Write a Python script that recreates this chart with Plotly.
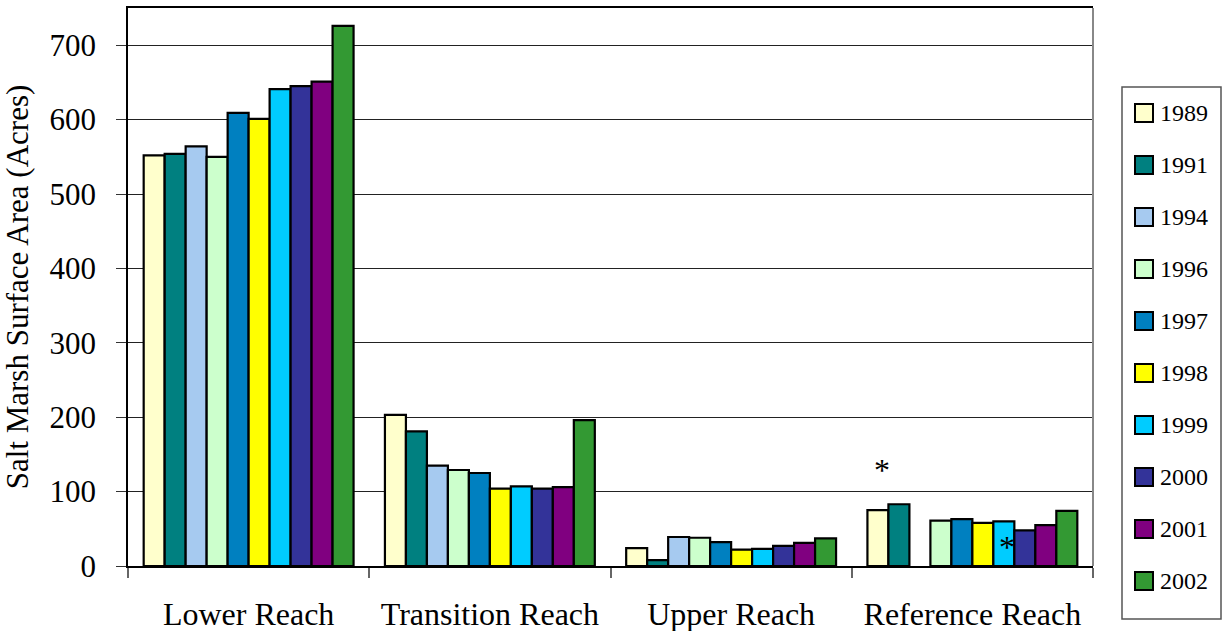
import plotly.graph_objects as go

# Salt marsh surface area by reach and survey year
reaches = ["Lower Reach", "Transition Reach", "Upper Reach", "Reference Reach"]
years = ["1989", "1991", "1994", "1996", "1997", "1998", "1999", "2000", "2001", "2002"]

acres_1989 = [552, 203, 24, 75]
acres_1991 = [554, 181, 8, 83]
acres_1994 = [564, 135, 39, None]
acres_1996 = [550, 129, 38, 61]
acres_1997 = [609, 125, 32, 63]
acres_1998 = [601, 104, 22, 58]
acres_1999 = [641, 107, 23, 60]
acres_2000 = [645, 104, 27, 48]
acres_2001 = [651, 106, 31, 55]
acres_2002 = [726, 196, 37, 74]

series = [acres_1989, acres_1991, acres_1994, acres_1996, acres_1997,
          acres_1998, acres_1999, acres_2000, acres_2001, acres_2002]

colors = ["#FFFFCC", "#008080", "#A6CAF0", "#CCFFCC", "#0080C0",
          "#FFFF00", "#00CCFF", "#333399", "#800080", "#339933"]

# Footnote markers: (reach index, year index, height in acres)
note_reach = [3, 3]
note_year = [0, 6]
note_height = [129, 25]

FONT = "Liberation Serif"

# Plot-area geometry in pixels (used to place the hand-built legend)
W, H = 1222, 631
L, R, T, B = 128, 129, 8, 65
PW, PH = W - L - R, H - T - B


def px_x(x):
    return (x - L) / PW


def px_y(y):
    return (H - B - y) / PH


fig = go.Figure()
for yr, vals, col in zip(years, series, colors):
    fig.add_trace(go.Bar(
        name=yr, x=reaches, y=vals,
        marker=dict(color=col, line=dict(color="#000000", width=2.2)),
        showlegend=False,
    ))

BARGAP = 0.13
n = len(years)
slot = (1 - BARGAP) / n
for ri, yi, h in zip(note_reach, note_year, note_height):
    xc = ri - (1 - BARGAP) / 2 + slot * (yi + 0.5) + 0.015
    fig.add_annotation(x=xc, y=h, xref="x", yref="y", text="*",
                       showarrow=False, font=dict(family=FONT, size=32, color="#000"),
                       yanchor="middle")

# Legend box
shapes = [dict(type="rect", xref="paper", yref="paper",
               x0=px_x(1122), x1=px_x(1221), y0=px_y(619), y1=px_y(87),
               line=dict(color="#555555", width=1.5), fillcolor="white", layer="below")]
# Right frame edge of the plot area
shapes.append(dict(type="line", xref="paper", yref="paper", x0=1, x1=1, y0=0, y1=1,
                   line=dict(color="#888888", width=2)))

for i, (yr, col) in enumerate(zip(years, colors)):
    cy = 113 + 52 * i
    shapes.append(dict(type="rect", xref="paper", yref="paper",
                       x0=px_x(1135), x1=px_x(1153), y0=px_y(cy + 9), y1=px_y(cy - 9),
                       fillcolor=col, line=dict(color="#000000", width=2)))
    fig.add_annotation(x=px_x(1158), y=px_y(cy), xref="paper", yref="paper",
                       text=yr, showarrow=False, xanchor="left", yanchor="middle",
                       font=dict(family=FONT, size=24, color="#000"))

fig.update_layout(
    width=W, height=H,
    margin=dict(l=L, r=R, t=T, b=B),
    paper_bgcolor="white", plot_bgcolor="white",
    barmode="group", bargap=BARGAP, bargroupgap=0,
    font=dict(family=FONT, size=30, color="#000"),
    shapes=shapes,
    xaxis=dict(
        type="category", automargin=False, showline=True, linecolor="#000", linewidth=1.5,
        mirror=True, ticks="outside", tickson="boundaries", ticklen=10,
        tickcolor="#666", tickwidth=1.5, ticklabelstandoff=19,
        tickfont=dict(family=FONT, size=32), showgrid=False,
    ),
    yaxis=dict(
        range=[0, 750], tickvals=[0, 100, 200, 300, 400, 500, 600, 700],
        automargin=False, showline=True, linecolor="#000", linewidth=1.5,
        ticks="outside", ticklen=10, tickcolor="#333", tickwidth=1,
        ticklabelstandoff=14, tickfont=dict(family=FONT, size=31),
        showgrid=True, gridcolor="#222222", gridwidth=1, zeroline=False,
        title=dict(text="Salt Marsh Surface Area (Acres)",
                   font=dict(family=FONT, size=31), standoff=14),
    ),
)

fig.write_html("out.html")
